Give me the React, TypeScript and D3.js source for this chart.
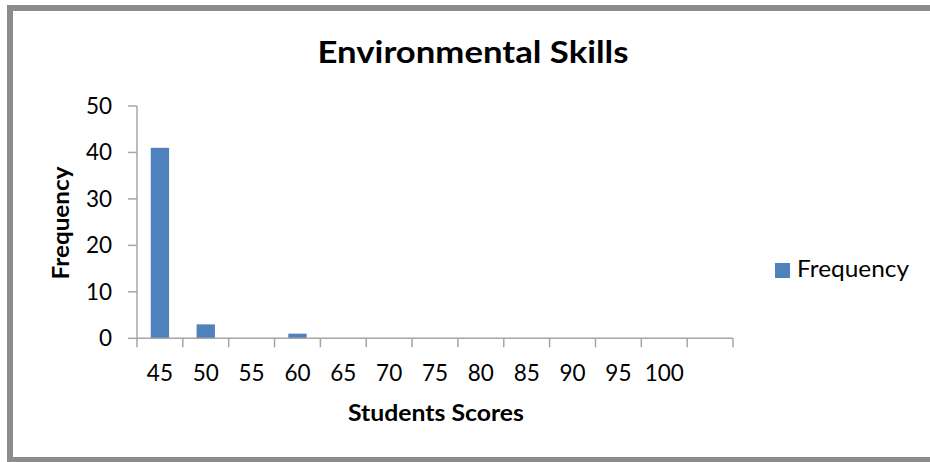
import React from "react";
import * as d3 from "d3";

const categories = ["45", "50", "55", "60", "65", "70", "75", "80", "85", "90", "95", "100", ""];
const frequency = [41, 3, 0, 1, 0, 0, 0, 0, 0, 0, 0, 0, 0];
const yTicks = [0, 10, 20, 30, 40, 50];
const title = "Environmental Skills";
const xTitle = "Students Scores";
const yTitle = "Frequency";
const seriesName = "Frequency";

const W = 930;
const H = 462;
const FONT = "Lato, 'Open Sans', sans-serif";
const BAR = "#4F81BD";
const AXIS = "#A6A6A6";

export default function App() {
  const keys = categories.map((c, i) => i + "|" + c);
  const x = d3.scaleBand<string>().domain(keys).range([137, 733]).padding(0);
  const y = d3.scaleLinear().domain([0, 50]).range([338.3, 106]);
  const bw = x.bandwidth();
  const barW = bw * 0.4;

  return (
    <svg width={W} height={H} style={{ position: "absolute", left: 0, top: 0 }}>
      <rect x={0} y={0} width={W} height={H} fill="#fff" />
      <rect x={10} y={8} width={W + 20} height={452} fill="none" stroke="#8C8C8C" strokeWidth={6} />
      <text x={473} y={63} textAnchor="middle" fontFamily={FONT} fontWeight="bold" fontSize={31} textLength={311} lengthAdjust="spacingAndGlyphs" fill="#000">{title}</text>

      {/* y axis */}
      <line x1={137} x2={137} y1={y(50)} y2={y(0)} stroke={AXIS} strokeWidth={1.5} />
      {yTicks.map((t) => (
        <g key={t}>
          <line x1={128} x2={137} y1={y(t)} y2={y(t)} stroke={AXIS} strokeWidth={1.5} />
          <text x={112} y={y(t) + 8} textAnchor="end" fontFamily={FONT} fontSize={22.5} fill="#000">{t}</text>
        </g>
      ))}

      {/* bars */}
      {keys.map((k, i) => (
        frequency[i] > 0 ? (
          <rect key={k} x={(x(k) as number) + (bw - barW) / 2} y={y(frequency[i])} width={barW} height={y(0) - y(frequency[i])} fill={BAR} />
        ) : null
      ))}

      {/* x axis */}
      <line x1={137} x2={733} y1={y(0)} y2={y(0)} stroke={AXIS} strokeWidth={1.5} />
      {keys.map((k) => (
        <line key={"t" + k} x1={x(k) as number} x2={x(k) as number} y1={y(0)} y2={y(0) + 9} stroke={AXIS} strokeWidth={1.5} />
      ))}
      <line x1={733} x2={733} y1={y(0)} y2={y(0) + 9} stroke={AXIS} strokeWidth={1.5} />
      {keys.map((k, i) => (
        <text key={"l" + k} x={(x(k) as number) + bw / 2} y={381} textAnchor="middle" fontFamily={FONT} fontSize={22.5} fill="#000">{categories[i]}</text>
      ))}

      <text x={436} y={421} textAnchor="middle" fontFamily={FONT} fontWeight="bold" fontSize={22} textLength={176} lengthAdjust="spacingAndGlyphs" fill="#000">{xTitle}</text>
      <text transform="translate(69,223) rotate(-90)" textAnchor="middle" fontFamily={FONT} fontWeight="bold" fontSize={22} textLength={113} lengthAdjust="spacingAndGlyphs" fill="#000">{yTitle}</text>

      {/* legend */}
      <rect x={775} y={263} width={15} height={15} fill={BAR} />
      <text x={797} y={277} fontFamily={FONT} fontSize={23} textLength={112} lengthAdjust="spacingAndGlyphs" fill="#000">{seriesName}</text>
    </svg>
  );
}
